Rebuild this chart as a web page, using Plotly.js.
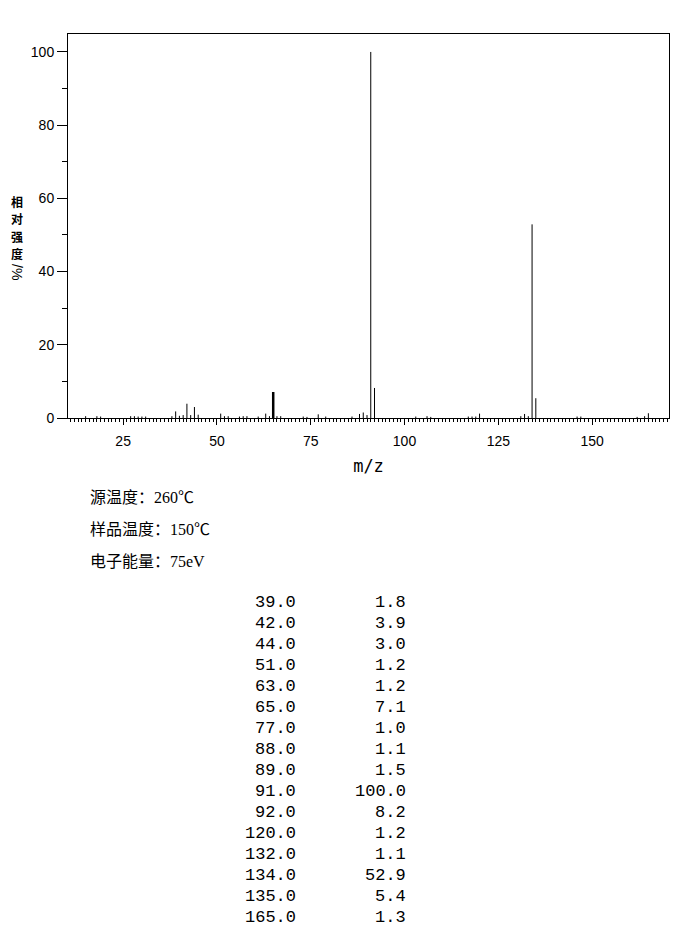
<!DOCTYPE html>
<html>
<head>
<meta charset="utf-8">
<script src="https://cdn.plot.ly/plotly-3.0.1.min.js"></script>
<style>
  body { margin: 0; background: white; }
  #chart { width: 696px; height: 935px; }
</style>
</head>
<body>
<div id="chart"></div>
<script>
// peaks (m/z, relative intensity %)
const mz = [15, 18, 19, 27, 28, 29, 30, 31, 38, 39, 40, 41, 42, 43, 44, 45,
  51, 52, 53, 56, 57, 58, 61, 63, 64, 65, 66, 67, 73, 74, 77, 79, 86, 88, 89, 90,
  91, 92, 103, 106, 107, 117, 118, 119, 120, 131, 132, 133, 134, 135, 146, 147,
  162, 164, 165];
const intensity = [0.5, 0.5, 0.4, 0.5, 0.5, 0.4, 0.4, 0.4, 0.5, 1.8, 0.6, 0.8, 3.9, 0.8, 3.0, 0.9,
  1.2, 0.5, 0.5, 0.4, 0.5, 0.5, 0.4, 1.2, 0.5, 7.1, 0.5, 0.5, 0.4, 0.3, 1.0, 0.4, 0.4, 1.1, 1.5, 0.8,
  100.0, 8.2, 0.4, 0.5, 0.3, 0.4, 0.4, 0.4, 1.2, 0.5, 1.1, 0.5, 52.9, 5.4, 0.4, 0.4,
  0.3, 0.5, 1.3];
const boldPeaks = [65];

const yTitleChars = ['相', '对', '强', '度'];
const yTitleUnit = '/%';

const infoLines = ['源温度：260℃', '样品温度：150℃', '电子能量：75eV'];

const tableMz = ['39.0', '42.0', '44.0', '51.0', '63.0', '65.0', '77.0', '88.0',
  '89.0', '91.0', '92.0', '120.0', '132.0', '134.0', '135.0', '165.0'];
const tableInt = ['1.8', '3.9', '3.0', '1.2', '1.2', '7.1', '1.0', '1.1',
  '1.5', '100.0', '8.2', '1.2', '1.1', '52.9', '5.4', '1.3'];

// plot box in pixels, used to place the text around the chart
const box = { left: 68, right: 669, top: 34, bottom: 418 };
const px2x = X => (X - box.left) / (box.right - box.left);
const px2y = Y => (box.bottom - Y) / (box.bottom - box.top);

const stickTrace = (keep, width) => {
  const x = [], y = [];
  mz.forEach((m, i) => {
    if (!keep(m)) return;
    x.push(m, m, null);
    y.push(0, intensity[i], null);
  });
  return {
    x, y, type: 'scatter', mode: 'lines',
    line: { color: 'black', width: width },
    hoverinfo: 'skip', showlegend: false
  };
};

const traces = [
  stickTrace(m => !boldPeaks.includes(m), 1),
  stickTrace(m => boldPeaks.includes(m), 2.5)
];

const annotations = [];

// vertical y title: CJK upright, the unit turned sideways
yTitleChars.forEach((c, i) => {
  annotations.push({
    xref: 'paper', yref: 'paper', x: px2x(17), y: px2y(201 + i * 17.5),
    text: c, showarrow: false, xanchor: 'center', yanchor: 'middle',
    font: { family: 'Noto Sans CJK SC', size: 12, color: 'black', weight: 700 }
  });
});
annotations.push({
  xref: 'paper', yref: 'paper', x: px2x(17), y: px2y(272),
  text: yTitleUnit, textangle: 90, showarrow: false,
  xanchor: 'center', yanchor: 'middle',
  font: { family: 'Liberation Sans', size: 14, color: 'black' }
});

infoLines.forEach((t, i) => {
  annotations.push({
    xref: 'paper', yref: 'paper', x: px2x(88), y: px2y(497 + i * 32),
    text: t, showarrow: false, xanchor: 'left', yanchor: 'middle',
    font: { family: 'Liberation Serif, Noto Sans CJK SC', size: 16, color: 'black' }
  });
});

tableMz.forEach((m, i) => {
  const rowY = px2y(602 + i * 21);
  const f = { family: 'Liberation Mono', size: 17, color: 'black' };
  annotations.push({
    xref: 'paper', yref: 'paper', x: px2x(298), y: rowY, text: m,
    showarrow: false, xanchor: 'right', yanchor: 'middle', font: f
  });
  annotations.push({
    xref: 'paper', yref: 'paper', x: px2x(408), y: rowY, text: tableInt[i],
    showarrow: false, xanchor: 'right', yanchor: 'middle', font: f
  });
});

const tickFont = { family: 'Liberation Sans', size: 14, color: 'black' };

const layout = {
  width: 696,
  height: 935,
  margin: { l: box.left, r: 696 - box.right, t: box.top, b: 935 - box.bottom },
  plot_bgcolor: 'white',
  paper_bgcolor: 'white',
  showlegend: false,
  xaxis: {
    range: [10.3, 170.5],
    tick0: 0, dtick: 25,
    ticks: 'outside', ticklen: 6, tickcolor: 'black', tickwidth: 1,
    minor: { dtick: 1, ticks: 'outside', ticklen: 3, tickcolor: 'black', tickwidth: 1 },
    tickfont: tickFont,
    ticklabelstandoff: 4,
    showline: true, linecolor: 'black', linewidth: 1, mirror: true,
    showgrid: false, zeroline: false,
    title: { text: 'm/z', font: { family: 'DejaVu Sans Mono', size: 17, color: 'black' }, standoff: 12 }
  },
  yaxis: {
    range: [0, 104.9],
    tick0: 0, dtick: 20,
    ticks: 'outside', ticklen: 10, tickcolor: 'black', tickwidth: 1,
    minor: { dtick: 10, ticks: 'outside', ticklen: 5, tickcolor: 'black', tickwidth: 1 },
    tickfont: tickFont,
    showline: true, linecolor: 'black', linewidth: 1, mirror: true,
    showgrid: false, zeroline: false
  },
  annotations: annotations
};

Plotly.newPlot('chart', traces, layout, { staticPlot: true, displayModeBar: false });
</script>
</body>
</html>
